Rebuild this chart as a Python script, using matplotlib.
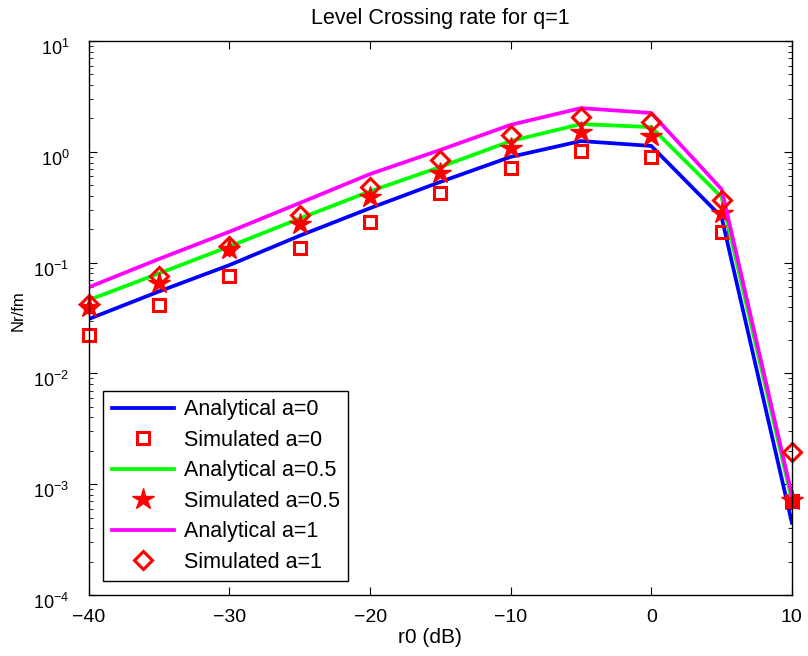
import numpy as np
import matplotlib.pyplot as plt
import matplotlib.transforms as mtransforms
from matplotlib.ticker import LogLocator, NullFormatter

plt.rcParams['font.family'] = ['Liberation Sans', 'DejaVu Sans']
plt.rcParams['font.size'] = 12
plt.rcParams['mathtext.fontset'] = 'custom'
plt.rcParams['mathtext.rm'] = 'Liberation Sans'

r0 = [-40, -35, -30, -25, -20, -15, -10, -5, 0, 5, 10]

# analytical curves
ana_a0 = [0.031, 0.055, 0.095, 0.175, 0.31, 0.535, 0.90, 1.25, 1.13, 0.258, 4.5e-4]
ana_a05 = [0.046, 0.080, 0.140, 0.250, 0.44, 0.73, 1.25, 1.78, 1.67, 0.39, 7.2e-4]
ana_a1 = [0.060, 0.108, 0.190, 0.345, 0.63, 1.04, 1.75, 2.48, 2.24, 0.46, 8.0e-4]

# simulated points
sim_a0 = [0.0222, 0.0414, 0.076, 0.136, 0.233, 0.424, 0.714, 1.017, 0.90, 0.189, 7.0e-4]
sim_a05 = [0.040, 0.065, 0.133, 0.225, 0.39, 0.64, 1.08, 1.51, 1.39, 0.28, 7.2e-4]
sim_a1 = [0.042, 0.076, 0.140, 0.27, 0.48, 0.84, 1.42, 2.06, 1.86, 0.367, 1.95e-3]

fig = plt.figure(figsize=(8.08, 6.56), dpi=100)
ax = fig.add_axes([0.110, 0.093, 0.870, 0.8445])

ax.semilogy(r0, ana_a0, color='#0000ff', lw=2.7, label='Analytical a=0')
ax.semilogy(r0, sim_a0, ls='none', marker='s', ms=8, mfc='none', mec='#ff0000', mew=2.2,
            clip_on=False, label='Simulated a=0')
ax.semilogy(r0, ana_a05, color='#00ff00', lw=2.7, label='Analytical a=0.5')
ax.semilogy(r0, sim_a05, ls='none', marker='*', ms=16, color='#ff0000',
            clip_on=False, label='Simulated a=0.5')
ax.semilogy(r0, ana_a1, color='#ff00ff', lw=2.7, label='Analytical a=1')
ax.semilogy(r0, sim_a1, ls='none', marker='D', ms=9, mfc='none', mec='#ff0000', mew=2.2,
            clip_on=False, label='Simulated a=1')

ax.set_xlim(-40, 10)
ax.set_ylim(1e-4, 1e1)
ax.set_xticks([-40, -30, -20, -10, 0, 10])
ax.set_xticklabels(['\u221240', '\u221230', '\u221220', '\u221210', '0', '10'])
ax.yaxis.set_major_locator(LogLocator(base=10, numticks=10))
ax.yaxis.set_minor_locator(LogLocator(base=10, subs=np.arange(2, 10), numticks=10))
ax.yaxis.set_minor_formatter(NullFormatter())
ax.tick_params(which='both', direction='in', top=True, right=True)
ax.tick_params(which='major', length=6)
ax.tick_params(which='minor', length=3)
ax.tick_params(axis='x', pad=10, labelsize=14)
ax.tick_params(axis='y', pad=14, labelsize=13)
for s in ax.spines.values():
    s.set_linewidth(1.0)

# MATLAB puts the 10^n labels a bit lower than the tick
shift = mtransforms.ScaledTranslation(0, -6 / 100, fig.dpi_scale_trans)
for lab in ax.get_yticklabels():
    lab.set_transform(lab.get_transform() + shift)

ax.set_title('Level Crossing rate for q=1', fontsize=15.5, pad=12)
ax.set_xlabel('r0 (dB)', fontsize=15)
ax.xaxis.set_label_coords(0.485, -0.06)
ax.set_ylabel('Nr/fm', fontsize=12)
ax.yaxis.set_label_coords(-0.0896, 0.513)

leg = ax.legend(loc='lower left', bbox_to_anchor=(0.02, 0.025), borderaxespad=0,
                fancybox=False, edgecolor='black', framealpha=1, handlelength=2.9,
                borderpad=0.4, labelspacing=0.44, handletextpad=0.45, fontsize=15.5)
leg.get_frame().set_linewidth(1.0)

fig.savefig('out.png', dpi=100)
